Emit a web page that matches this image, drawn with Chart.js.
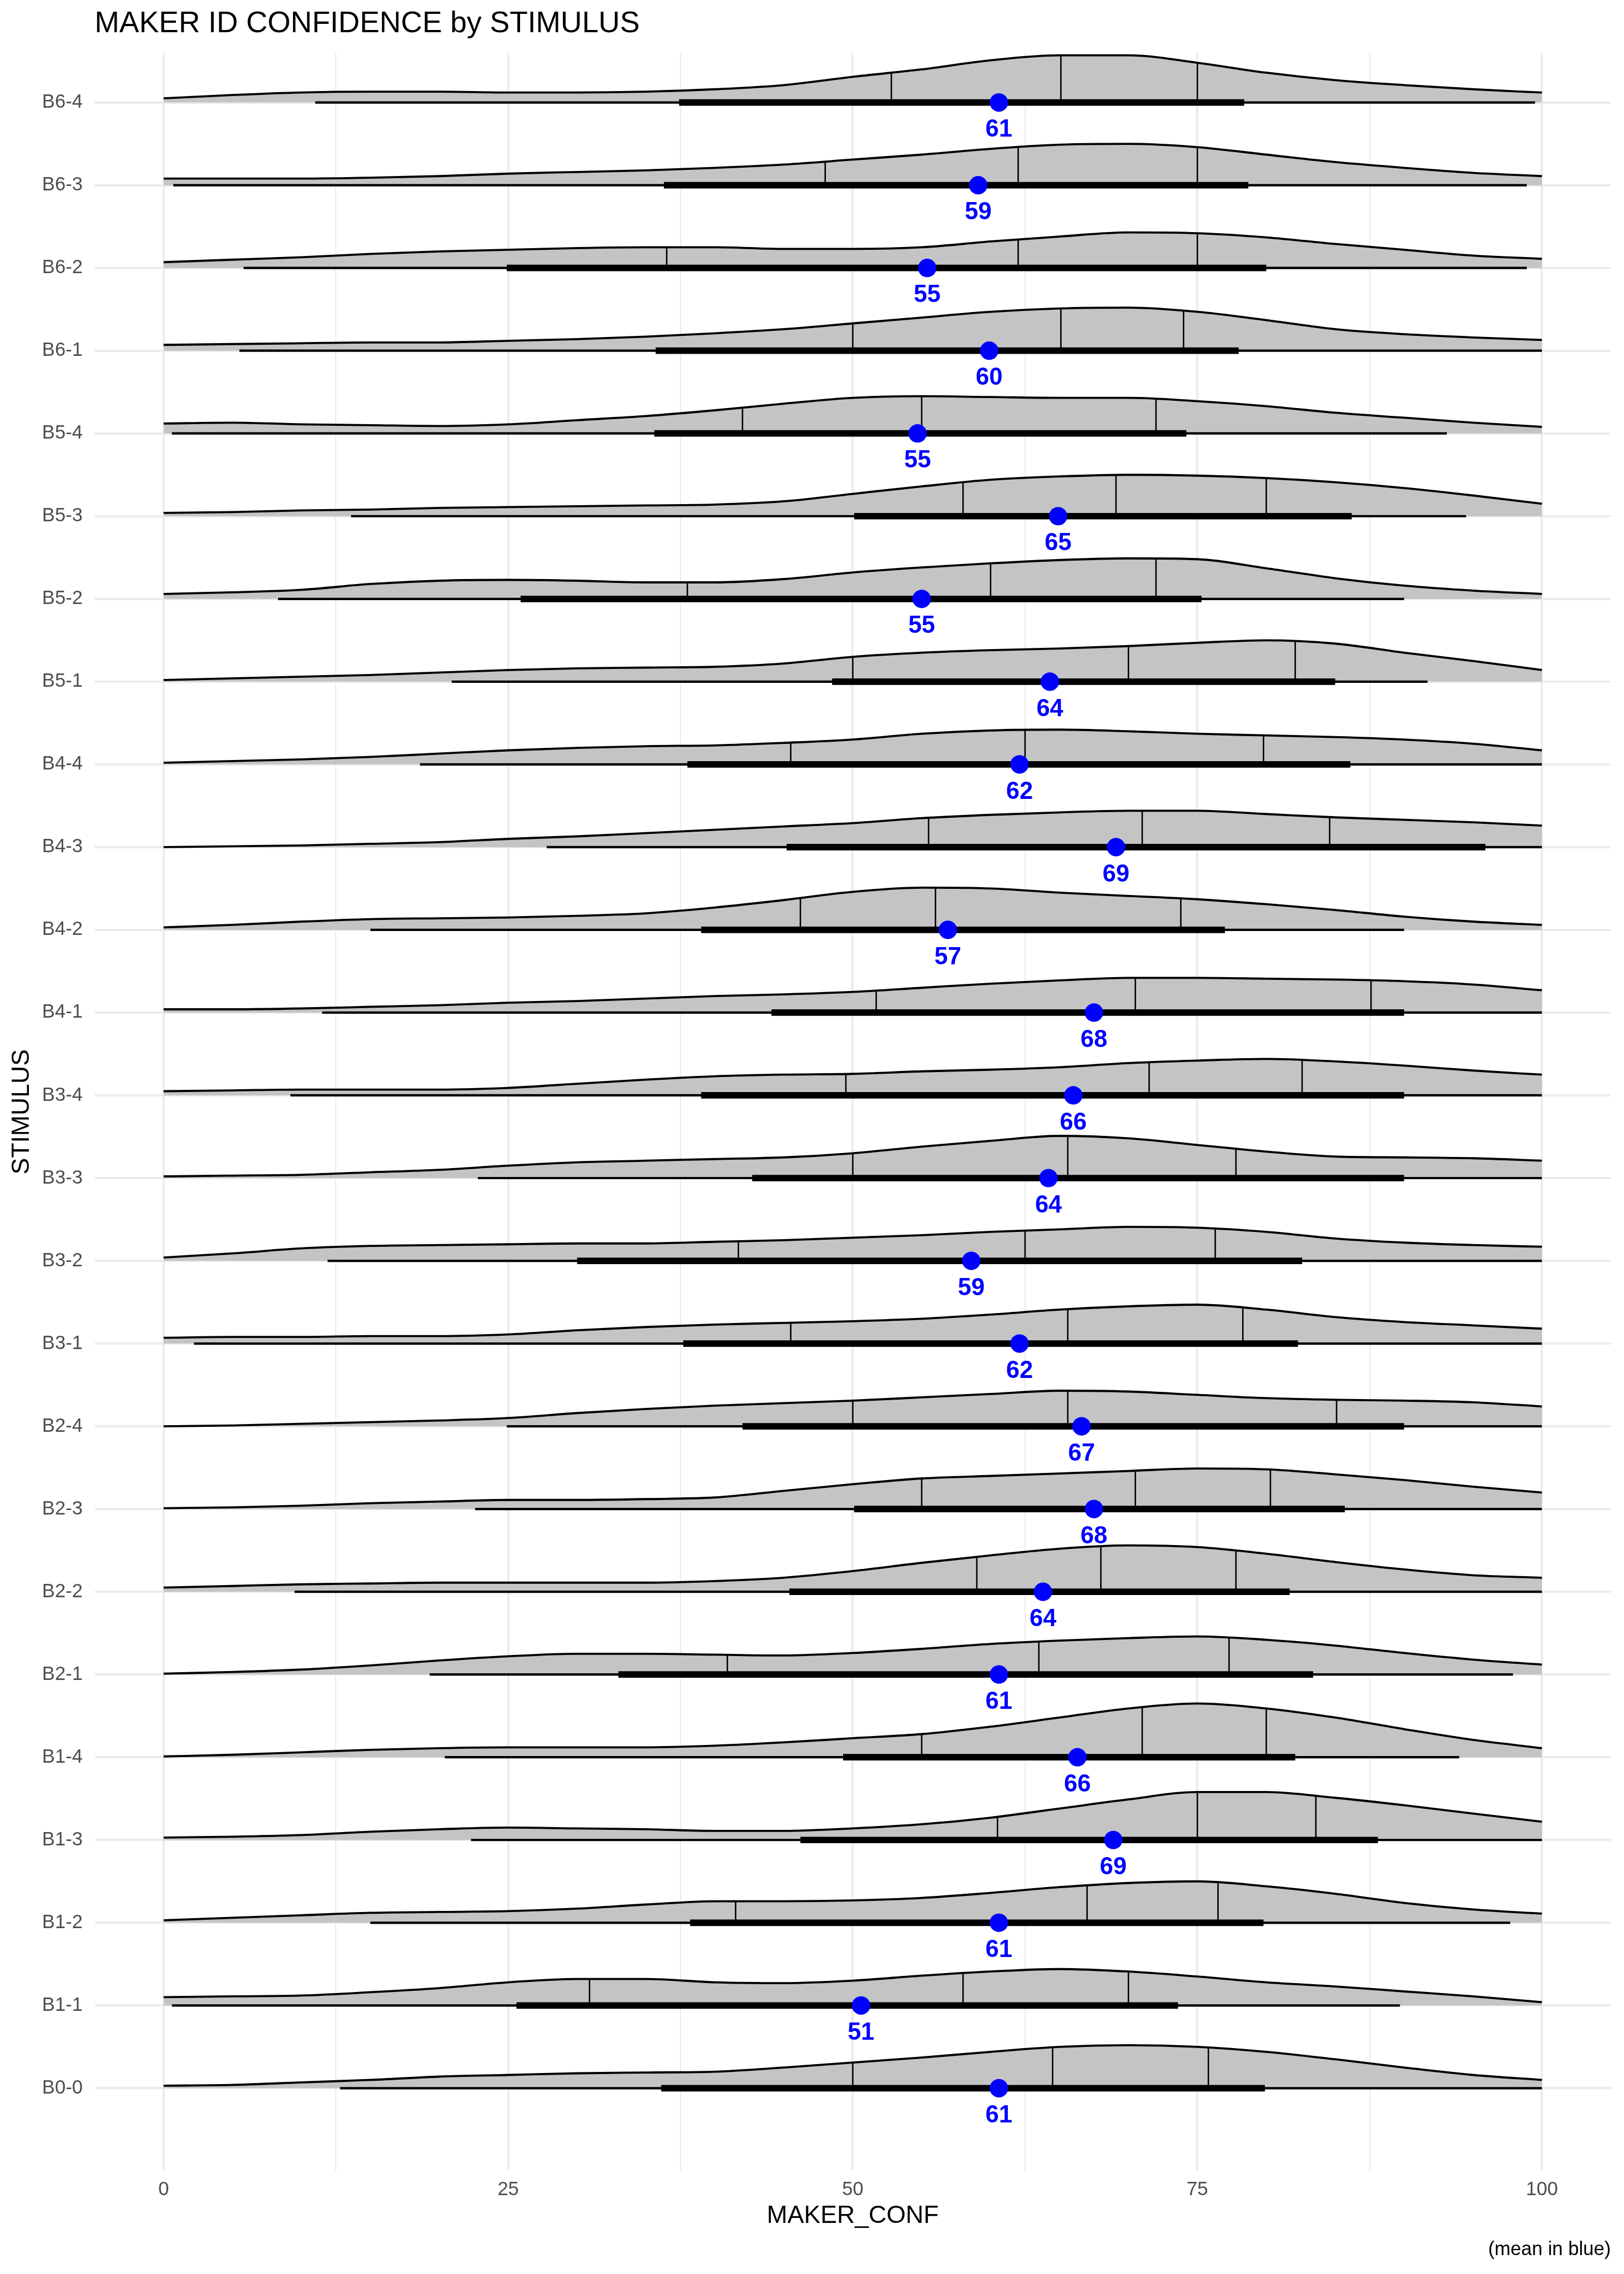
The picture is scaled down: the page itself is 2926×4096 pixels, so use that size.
<!DOCTYPE html>
<html>
<head>
<meta charset="utf-8">
<script src="https://cdn.jsdelivr.net/npm/chart.js@4.4.1/dist/chart.umd.min.js"></script>
<style>
  html, body { margin: 0; padding: 0; background: #ffffff; }
  #wrap { width: 2926px; height: 4096px; position: relative; }
</style>
</head>
<body>
<div id="wrap"><canvas id="chart"></canvas></div>
<script>
// ---------------- data ----------------
const STIMULI = ['B6-4','B6-3','B6-2','B6-1','B5-4','B5-3','B5-2','B5-1','B4-4','B4-3','B4-2','B4-1',
                 'B3-4','B3-3','B3-2','B3-1','B2-4','B2-3','B2-2','B2-1','B1-4','B1-3','B1-2','B1-1','B0-0'];

// x positions at which the density curves were read
const DENS_X = [0,5,10,15,20,25,30,35,40,45,50,55,60,65,70,75,80,85,90,95,100];

// density heights (percent of one row step), one list per stimulus, same order as STIMULI
const DENSITY = [
  [5,9,12,13,13,12,12,13,16,21,31,40,51,57,57,48,36,27,21,16,12],
  [8,8,8,9,11,14,16,18,21,25,31,37,44,49,50,46,37,28,21,15,11],
  [7,10,13,17,20,22,24,25,25,23,23,25,32,38,43,42,37,29,22,15,11],
  [7,8,9,10,10,12,14,17,21,26,33,40,47,51,52,47,37,26,20,16,13],
  [12,13,11,10,9,11,16,21,28,36,43,45,44,43,43,39,33,25,19,13,8],
  [4,5,7,8,10,11,12,13,14,18,27,36,44,48,50,49,46,41,34,25,15],
  [6,8,11,18,22,23,22,20,20,24,32,38,43,47,49,48,37,25,16,10,6],
  [2,4,6,8,11,14,16,17,18,22,30,35,38,40,43,47,50,46,35,25,14],
  [2,4,6,9,13,17,20,22,23,26,30,37,41,42,40,37,35,33,30,25,17],
  [0,1,2,4,6,10,13,17,21,25,29,35,39,42,44,44,40,36,33,30,26],
  [3,6,10,13,14,15,17,20,27,36,46,51,50,45,41,37,31,24,16,10,6],
  [4,4,5,7,9,12,14,17,20,22,25,30,35,39,42,42,41,40,38,34,27],
  [5,6,7,7,7,9,14,19,23,25,26,29,31,34,39,42,44,41,36,30,25],
  [2,3,4,7,10,15,19,21,23,25,30,38,45,51,48,40,32,26,25,24,21],
  [4,9,15,18,19,20,21,21,23,25,28,31,35,38,41,40,35,27,22,19,17],
  [7,8,8,9,9,11,16,20,23,25,27,30,35,41,45,47,41,32,26,22,18],
  [0,1,3,5,7,10,16,21,25,28,31,35,39,43,42,38,34,32,31,29,24],
  [1,2,4,7,9,11,11,12,14,22,30,37,40,43,46,49,48,42,35,27,20],
  [5,7,9,10,11,11,11,11,13,17,25,35,44,52,56,54,46,36,27,20,17],
  [1,3,6,11,17,22,25,25,24,23,26,31,37,41,44,46,42,35,26,18,12],
  [1,3,6,9,11,12,12,12,14,18,23,28,37,48,59,65,59,48,34,21,11],
  [3,4,6,10,13,15,14,13,11,11,14,19,27,38,49,58,58,51,42,32,22],
  [3,6,9,12,13,14,17,22,26,26,27,30,36,43,48,50,44,35,24,16,11],
  [10,11,12,16,21,28,32,32,28,27,30,36,41,44,41,35,28,23,17,11,4],
  [3,4,7,10,14,16,18,19,20,25,31,37,44,50,52,50,44,35,25,16,10]
];

// quartile lines
const Q25 = [52.8,48.0,36.5,50.0,42.0,58.0,38.0,50.0,45.5,55.5,46.2,51.7,49.5,50.0,41.7,45.5,50.0,55.0,59.0,40.9,55.0,60.5,41.5,30.9,50.0];
const Q50 = [65.1,62.0,62.0,65.1,55.0,69.1,60.0,70.0,62.5,71.0,56.0,70.5,71.5,65.6,62.5,65.6,65.6,70.5,68.0,63.5,71.0,75.0,67.0,58.0,64.5];
const Q75 = [75.0,75.0,75.0,74.0,72.0,80.0,72.0,82.1,79.8,84.6,73.8,87.6,82.6,77.8,76.3,78.3,85.1,80.3,77.8,77.3,80.0,83.6,76.5,70.0,75.8];

// thin interval (outer) and thick interval (inner)
const LO_OUTER = [11.0,0.7,5.8,5.5,0.6,13.6,8.3,20.9,18.6,27.8,15.0,11.5,9.2,22.8,11.9,2.2,24.9,22.6,9.5,19.3,20.4,22.3,15.0,0.6,12.8];
const HI_OUTER = [99.5,98.9,98.9,100,93.1,94.5,90.0,91.7,100,100,90.0,100,100,100,100,100,100,100,100,97.9,94.0,100,97.7,89.7,100];
const LO_INNER = [37.4,36.3,24.9,35.7,35.6,50.1,25.9,48.5,38.0,45.2,39.0,44.1,39.0,42.7,30.0,37.7,42.0,50.1,45.4,33.0,49.3,46.2,38.2,25.6,36.1];
const HI_INNER = [78.4,78.7,80.0,78.0,74.2,86.2,75.3,85.0,86.1,95.9,77.0,90.0,90.0,90.0,82.6,82.3,90.0,85.7,81.7,83.4,82.1,88.1,79.8,73.6,79.9];

// means and their printed labels
const MEAN = [60.6,59.1,55.4,59.9,54.7,64.9,55.0,64.3,62.1,69.1,56.9,67.5,66.0,64.2,58.6,62.1,66.6,67.5,63.8,60.6,66.3,68.9,60.6,50.6,60.6];
const MEAN_LABEL = [61,59,55,60,55,65,55,64,62,69,57,68,66,64,59,62,67,68,64,61,66,69,61,51,61];

// axis ticks
const X_MAJOR = [0,25,50,75,100];
const X_MINOR = [12.5,37.5,62.5,87.5];

// ---------------- chart ----------------
const N = STIMULI.length;
const FONT = '"Liberation Sans", Arial, Helvetica, sans-serif';
const rowOf = i => N - 1 - i;

const datasets = [];
STIMULI.forEach((s, i) => {
  const r = rowOf(i);
  datasets.push({
    kind: 'density', row: i,
    label: s + ' density',
    data: DENS_X.map((x, j) => ({x: x, y: r + DENSITY[i][j] / 100})),
    borderColor: '#000000', borderWidth: 3.8,
    backgroundColor: '#C4C4C4',
    fill: {value: r},
    cubicInterpolationMode: 'monotone',
    pointRadius: 0, borderCapStyle: 'butt', borderJoinStyle: 'round',
    order: 4
  });
});
STIMULI.forEach((s, i) => {
  const r = rowOf(i);
  datasets.push({
    label: s + ' outer',
    data: [{x: LO_OUTER[i], y: r}, {x: HI_OUTER[i], y: r}],
    borderColor: '#000000', borderWidth: 4.2, borderCapStyle: 'butt',
    pointRadius: 0, fill: false, order: 3
  });
  datasets.push({
    label: s + ' inner',
    data: [{x: LO_INNER[i], y: r}, {x: HI_INNER[i], y: r}],
    borderColor: '#000000', borderWidth: 11.7, borderCapStyle: 'butt',
    pointRadius: 0, fill: false, order: 2
  });
});
datasets.push({
  label: 'mean',
  data: STIMULI.map((s, i) => ({x: MEAN[i], y: rowOf(i)})),
  showLine: false,
  pointRadius: 16.6, pointHoverRadius: 16.6,
  pointBackgroundColor: '#0000FF', pointBorderWidth: 0, pointBorderColor: '#0000FF',
  order: 1
});

function bezierYAt(pts, px) {
  for (let j = 0; j < pts.length - 1; j++) {
    const a = pts[j], b = pts[j + 1];
    if (px >= a.x && px <= b.x) {
      const p1x = (a.cp2x !== undefined) ? a.cp2x : a.x;
      const p1y = (a.cp2y !== undefined) ? a.cp2y : a.y;
      const p2x = (b.cp1x !== undefined) ? b.cp1x : b.x;
      const p2y = (b.cp1y !== undefined) ? b.cp1y : b.y;
      let lo = 0, hi = 1, t = 0.5;
      for (let k = 0; k < 40; k++) {
        t = (lo + hi) / 2;
        const m = 1 - t;
        const bx = m*m*m*a.x + 3*m*m*t*p1x + 3*m*t*t*p2x + t*t*t*b.x;
        if (bx < px) lo = t; else hi = t;
      }
      const m = 1 - t;
      return m*m*m*a.y + 3*m*m*t*p1y + 3*m*t*t*p2y + t*t*t*b.y;
    }
  }
  return null;
}

const quartileLines = {
  id: 'quartileLines',
  afterDatasetDraw(chart, args) {
    const ds = chart.data.datasets[args.index];
    if (!ds || ds.kind !== 'density') return;
    const i = ds.row;
    const pts = args.meta.data;
    const xs = chart.scales.x, ys = chart.scales.y;
    const base = ys.getPixelForValue(rowOf(i));
    const ctx = chart.ctx;
    ctx.save();
    ctx.strokeStyle = '#000000';
    ctx.lineWidth = 2.6;
    ctx.lineCap = 'butt';
    [Q25[i], Q50[i], Q75[i]].forEach(q => {
      const px = xs.getPixelForValue(q);
      const top = bezierYAt(pts, px);
      if (top === null) return;
      ctx.beginPath();
      ctx.moveTo(px, base);
      ctx.lineTo(px, top);
      ctx.stroke();
    });
    ctx.restore();
  }
};

const meanLabels = {
  id: 'meanLabels',
  afterDatasetsDraw(chart) {
    const ctx = chart.ctx;
    const xs = chart.scales.x, ys = chart.scales.y;
    ctx.save();
    ctx.font = 'bold 43.5px ' + FONT;
    ctx.fillStyle = '#0000FF';
    ctx.textAlign = 'center';
    ctx.textBaseline = 'alphabetic';
    STIMULI.forEach((s, i) => {
      ctx.fillText(String(MEAN_LABEL[i]), xs.getPixelForValue(MEAN[i]), ys.getPixelForValue(rowOf(i)) + 61.7);
    });
    ctx.restore();
  }
};

new Chart(document.getElementById('chart'), {
  type: 'line',
  data: { datasets: datasets },
  plugins: [quartileLines, meanLabels],
  options: {
    responsive: true,
    maintainAspectRatio: false,
    devicePixelRatio: 1,
    animation: false,
    events: [],
    layout: { padding: { left: 0, right: 23.7, top: 0, bottom: 0 } },
    plugins: {
      legend: { display: false },
      tooltip: { enabled: false },
      filler: { propagate: false },
      title: {
        display: true, text: 'MAKER ID CONFIDENCE by STIMULUS', align: 'start', fullSize: false,
        color: '#000000', font: { family: FONT, size: 53.4, weight: 'normal', lineHeight: 1.2 },
        padding: { top: 10.9, bottom: 20.2 }
      },
      subtitle: {
        display: true, text: '(mean in blue)', position: 'bottom', align: 'end', fullSize: false,
        color: '#000000', font: { family: FONT, size: 34.6, weight: 'normal', lineHeight: 1.2 },
        padding: { top: 0, bottom: 22.4 }
      }
    },
    scales: {
      x: {
        type: 'linear', min: -5, max: 105,
        afterBuildTicks: s => { s.ticks = X_MAJOR.concat(X_MINOR).sort((a, b) => a - b).map(v => ({value: v})); },
        afterFit: s => { s.height = 121.7; },
        ticks: {
          autoSkip: false, maxRotation: 0, minRotation: 0,
          callback: v => (X_MAJOR.indexOf(v) >= 0 ? String(v) : ''),
          color: '#4D4D4D', font: { family: FONT, size: 34.6, lineHeight: 1.2 }, padding: 13.4
        },
        grid: {
          color: '#EBEBEB', drawTicks: false,
          lineWidth: c => (c.tick && X_MAJOR.indexOf(c.tick.value) >= 0) ? 3.9 : 2.0
        },
        border: { display: false },
        title: {
          display: true, text: 'MAKER_CONF', color: '#000000',
          font: { family: FONT, size: 44.6, lineHeight: 1.2 }, padding: { top: 0, bottom: 13.5 }
        }
      },
      y: {
        type: 'linear', min: -1, max: 24.6,
        afterBuildTicks: s => { s.ticks = STIMULI.map((_, i) => ({value: i})); },
        afterFit: s => { s.width = 170.6; },
        ticks: {
          autoSkip: false,
          callback: v => STIMULI[N - 1 - Math.round(v)],
          color: '#4D4D4D', font: { family: FONT, size: 34.6, lineHeight: 1.2 }, padding: 21.7
        },
        grid: { color: '#EBEBEB', lineWidth: 3.9, drawTicks: false },
        border: { display: false },
        title: {
          display: true, text: 'STIMULUS', color: '#000000',
          font: { family: FONT, size: 44.6, lineHeight: 1.2 }, padding: { top: 13.0, bottom: 0 }
        }
      }
    }
  }
});
</script>
</body>
</html>
